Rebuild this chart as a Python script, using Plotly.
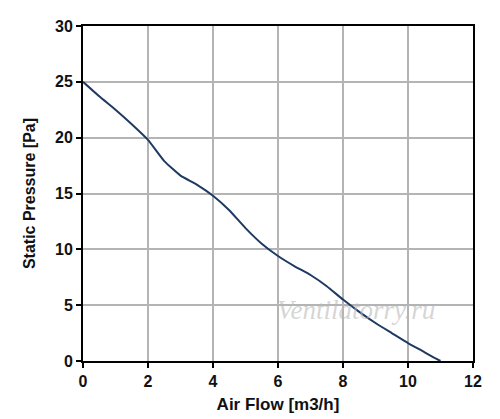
import plotly.graph_objects as go

air_flow = [0, 0.5, 1.0, 1.5, 2.0, 2.5, 3.0, 3.5, 4.0, 4.5, 5.0, 5.5, 6.0, 6.5, 7.0, 7.5, 8.0, 8.5, 9.0, 9.5, 10.0, 10.5, 10.8, 11.0]
static_pressure = [25.0, 23.7, 22.5, 21.2, 19.8, 17.9, 16.6, 15.8, 14.8, 13.5, 11.9, 10.5, 9.4, 8.5, 7.7, 6.7, 5.5, 4.4, 3.4, 2.5, 1.6, 0.8, 0.3, 0.0]

x_ticks = [0, 2, 4, 6, 8, 10, 12]
y_ticks = [0, 5, 10, 15, 20, 25, 30]

fig = go.Figure()
fig.add_trace(go.Scatter(
    x=air_flow, y=static_pressure, mode="lines",
    line=dict(color="#1e3a63", width=2, shape="spline", smoothing=0.4),
    showlegend=False, hoverinfo="skip"))

axis_font = dict(family="Liberation Sans, Arial", size=16, color="#111111")

fig.update_xaxes(
    range=[0, 12], tickvals=x_ticks, ticktext=[f"<b>{v}</b>" for v in x_ticks],
    showgrid=True, gridcolor="#b4b4b4", gridwidth=1.5,
    showline=True, linecolor="black", linewidth=2, mirror=True,
    ticks="outside", ticklen=5, tickwidth=2, tickcolor="black",
    tickfont=axis_font, zeroline=False, automargin=False,
    title=dict(text="<b>Air Flow [m3/h]</b>",
               font=dict(family="Liberation Sans, Arial", size=17, color="#111111"), standoff=9))
fig.update_yaxes(
    range=[0, 30], tickvals=y_ticks, ticktext=[f"<b>{v}</b>" for v in y_ticks],
    showgrid=True, gridcolor="#b4b4b4", gridwidth=1.5,
    showline=True, linecolor="black", linewidth=2, mirror=True,
    ticks="outside", ticklen=5, tickwidth=2, tickcolor="black",
    tickfont=axis_font, zeroline=False, automargin=False,
    title=dict(text="<b>Static Pressure [Pa]</b>",
               font=dict(family="Liberation Sans, Arial", size=16, color="#111111"), standoff=15))

fig.add_annotation(
    text="<i>Ventilatorry.ru</i>", x=8.4, y=4.6, xref="x", yref="y",
    showarrow=False, font=dict(family="Liberation Serif, Times New Roman", size=27, color="rgba(185,185,185,0.6)"))

fig.update_layout(
    width=492, height=411,
    margin=dict(l=75, r=27, t=18, b=58),
    paper_bgcolor="white", plot_bgcolor="white")

fig.write_html("out.html")
